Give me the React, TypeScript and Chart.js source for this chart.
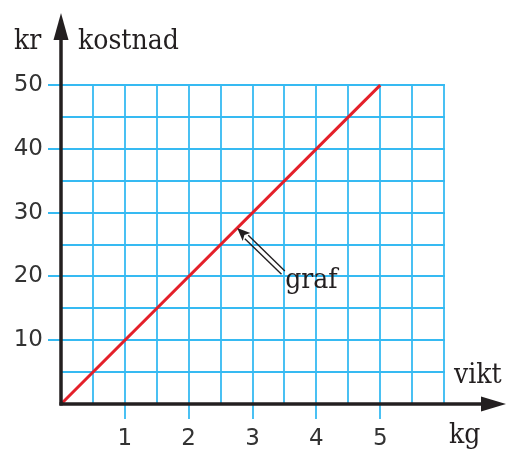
import React, { useEffect, useRef } from "react";
import { Chart, registerables } from "chart.js";

Chart.register(...registerables);

const lineX = [0, 5];
const lineY = [0, 50];
const xTickLabels = [1, 2, 3, 4, 5];
const yTickLabels = [10, 20, 30, 40, 50];
const gridXMax = 6;
const gridYMax = 50;
const gridXStep = 0.5;
const gridYStep = 5;
const axisXMax = 6.97;
const axisYMax = 61.3;
const annotTip = { x: 2.76, y: 27.6 };
const annotTail = { x: 3.48, y: 20.6 };

const GRID = "#36baf2";
const INK = "#231f20";
const SERIF = "'DejaVu Serif Condensed', 'DejaVu Serif', serif";

const drawPlugin = {
  id: "mathGrid",
  beforeDatasetsDraw(chart: any) {
    const { ctx, scales } = chart;
    const xs = scales.x, ys = scales.y;
    ctx.save();
    ctx.strokeStyle = GRID;
    ctx.lineWidth = 1.8;
    for (let v = gridXStep; v <= gridXMax + 1e-9; v += gridXStep) {
      const px = Math.round(xs.getPixelForValue(v));
      const isInt = Math.abs(v - Math.round(v)) < 1e-9 && xTickLabels.includes(Math.round(v));
      const yBottom = isInt ? ys.getPixelForValue(0) + 15 : ys.getPixelForValue(0);
      ctx.beginPath();
      ctx.moveTo(px, ys.getPixelForValue(gridYMax) - 0.9);
      ctx.lineTo(px, yBottom);
      ctx.stroke();
    }
    for (let v = gridYStep; v <= gridYMax + 1e-9; v += gridYStep) {
      const py = Math.round(ys.getPixelForValue(v));
      const isLab = yTickLabels.includes(Math.round(v));
      const xLeft = isLab ? xs.getPixelForValue(0) - 13 : xs.getPixelForValue(0);
      ctx.beginPath();
      ctx.moveTo(xLeft, py);
      ctx.lineTo(Math.round(xs.getPixelForValue(gridXMax)) + 0.9, py);
      ctx.stroke();
    }
    ctx.restore();
  },
  afterDatasetsDraw(chart: any) {
    const { ctx, scales, chartArea } = chart;
    const xs = scales.x, ys = scales.y;
    const x0 = xs.getPixelForValue(0);
    const y0 = ys.getPixelForValue(0);
    ctx.save();
    ctx.strokeStyle = INK;
    ctx.fillStyle = INK;
    ctx.lineWidth = 3.5;
    ctx.beginPath();
    ctx.moveTo(x0, y0 + 1.5);
    ctx.lineTo(x0, chartArea.top + 20);
    ctx.stroke();
    ctx.beginPath();
    ctx.moveTo(x0, chartArea.top);
    ctx.lineTo(x0 + 7.5, chartArea.top + 27);
    ctx.lineTo(x0 - 7.5, chartArea.top + 27);
    ctx.closePath();
    ctx.fill();
    ctx.beginPath();
    ctx.moveTo(x0 - 1.5, y0);
    ctx.lineTo(chartArea.right - 20, y0);
    ctx.stroke();
    ctx.beginPath();
    ctx.moveTo(chartArea.right, y0);
    ctx.lineTo(chartArea.right - 25, y0 - 7.5);
    ctx.lineTo(chartArea.right - 25, y0 + 7.5);
    ctx.closePath();
    ctx.fill();

    const tx = xs.getPixelForValue(annotTip.x), ty = ys.getPixelForValue(annotTip.y);
    const sx = xs.getPixelForValue(annotTail.x), sy = ys.getPixelForValue(annotTail.y);
    const ang = Math.atan2(ty - sy, tx - sx);
    const nx = -Math.sin(ang), ny = Math.cos(ang);
    const headLen = 13;
    const bx = tx - Math.cos(ang) * headLen, by = ty - Math.sin(ang) * headLen;
    ctx.lineWidth = 1.4;
    for (const off of [-2.4, 2.4]) {
      ctx.beginPath();
      ctx.moveTo(sx + nx * off, sy + ny * off);
      ctx.lineTo(bx + nx * off, by + ny * off);
      ctx.stroke();
    }
    ctx.beginPath();
    ctx.moveTo(tx, ty);
    ctx.lineTo(bx + nx * 5.5, by + ny * 5.5);
    ctx.lineTo(bx + Math.cos(ang) * 3, by + Math.sin(ang) * 3);
    ctx.lineTo(bx - nx * 5.5, by - ny * 5.5);
    ctx.closePath();
    ctx.fill();

    ctx.font = `28px ${SERIF}`;
    ctx.textBaseline = "alphabetic";
    ctx.textAlign = "left";
    ctx.fillText("kr", 14, 49);
    ctx.fillText("kostnad", 78, 49);
    ctx.fillText("vikt", 454, 383);
    ctx.fillText("kg", 449, 443);
    ctx.fillText("graf", sx + 2, sy + 15);
    ctx.restore();
  },
};

export default function App() {
  const ref = useRef<HTMLCanvasElement | null>(null);
  useEffect(() => {
    if (!ref.current) return;
    const chart = new Chart(ref.current, {
      type: "scatter",
      data: {
        datasets: [
          {
            data: lineX.map((x, i) => ({ x, y: lineY[i] })),
            showLine: true,
            borderColor: "#e4202a",
            borderWidth: 3,
            pointRadius: 0,
            fill: false,
          },
        ],
      },
      options: {
        animation: false,
        responsive: false,
        layout: { padding: { top: 13, right: 1, left: 0, bottom: 0 } },
        plugins: { legend: { display: false }, tooltip: { enabled: false } },
        scales: {
          x: {
            type: "linear",
            min: 0,
            max: axisXMax,
            grid: { display: false, drawTicks: false },
            border: { display: false },
            afterBuildTicks: (s: any) => {
              s.ticks = xTickLabels.map((v) => ({ value: v }));
            },
            afterFit: (s: any) => {
              s.height = 48;
              s.paddingLeft = 0;
              s.paddingRight = 0;
            },
            ticks: {
              padding: 21,
              color: "#333",
              font: { family: "'DejaVu Sans', sans-serif", size: 23 },
              maxRotation: 0,
              autoSkip: false,
            },
          },
          y: {
            type: "linear",
            min: 0,
            max: axisYMax,
            grid: { display: false, drawTicks: false },
            border: { display: false },
            afterBuildTicks: (s: any) => {
              s.ticks = yTickLabels.map((v) => ({ value: v }));
            },
            afterFit: (s: any) => {
              s.width = 61;
              s.paddingTop = 0;
              s.paddingBottom = 0;
            },
            ticks: {
              padding: 18,
              color: "#333",
              font: { family: "'DejaVu Sans', sans-serif", size: 23 },
              autoSkip: false,
            },
          },
        },
      },
      plugins: [drawPlugin],
    });
    return () => chart.destroy();
  }, []);
  return (
    <div style={{ position: "absolute", left: 0, top: 0, width: 507, height: 452 }}>
      <canvas ref={ref} width={507} height={452} style={{ width: 507, height: 452 }} />
    </div>
  );
}
